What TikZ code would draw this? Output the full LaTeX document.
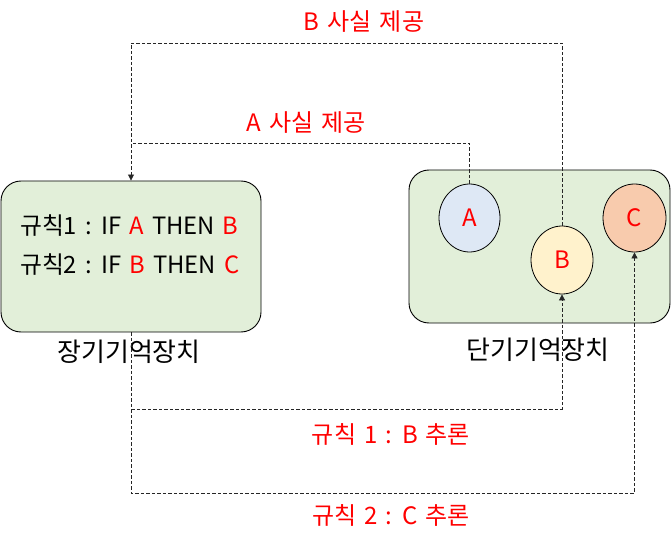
\documentclass[tikz,border=0pt]{standalone}
\usepackage{fontspec}
\setmainfont[WordSpace=1.5]{Noto Sans CJK KR}
\usetikzlibrary{shapes.geometric,arrows.meta}
\definecolor{boxgreen}{HTML}{E2EFD9}
\definecolor{cblue}{HTML}{DEE8F5}
\definecolor{cyellow}{HTML}{FFF2CC}
\definecolor{corange}{HTML}{F8CBAD}
\definecolor{lbl}{HTML}{FF0000}
\tikzset{
  membox/.style={draw=black, line width=0.9pt, fill=boxgreen, rounded corners=20pt, inner sep=0pt},
  fact/.style={draw=black, line width=0.8pt, ellipse, inner sep=0pt, text=lbl, font=\fontsize{24}{27}\selectfont},
  factA/.style={fact, fill=cblue},
  factB/.style={fact, fill=cyellow},
  factC/.style={fact, fill=corange},
  conn/.style={draw=black!85, line width=0.8pt, dash pattern=on 3.5pt off 2pt},
  tip/.style={-{Triangle[length=6pt,width=6pt]}},
  redlbl/.style={text=lbl, font=\fontsize{24}{28}\selectfont, inner sep=0pt},
  caption/.style={text=black, font=\fontsize{26}{30}\selectfont, inner sep=0pt},
  ruletxt/.style={text=black, font=\fontsize{23.8}{28}\selectfont, inner sep=0pt, anchor=west}
}
\begin{document}
\begin{tikzpicture}[x=1pt,y=-1pt]
\useasboundingbox (0,0) rectangle (671,545);
% memory boxes
\node[membox, minimum width=260pt, minimum height=151pt] (ltm) at (131,256.5) {};
\node[membox, minimum width=261pt, minimum height=153pt] (stm) at (539.5,246.5) {};
% facts
\node[factA, minimum width=61pt, minimum height=68pt] (A) at (469.5,218) {A};
\node[factB, minimum width=62pt, minimum height=68pt] (B) at (562,260) {B};
\node[factC, minimum width=63pt, minimum height=68pt] (C) at (634.5,218) {C};
% rules text
\node[ruletxt] (rule1) at (20,226) {규칙1 : IF \textcolor{lbl}{A} THEN \textcolor{lbl}{B}};
\node[ruletxt] (rule2) at (20,265) {규칙2 : IF \textcolor{lbl}{B} THEN \textcolor{lbl}{C}};
% captions
\node[caption] (ltmcap) at (129,352) {장기기억장치};
\node[caption] (stmcap) at (538,350) {단기기억장치};
% routing coordinates
\coordinate (ytopB) at (0,43);
\coordinate (ytopA) at (0,143);
\coordinate (ybot1) at (0,409);
\coordinate (ybot2) at (0,493);
% connectors
\draw[conn, tip] (B.north) -- (B.north |- ytopB) -| (ltm.north);
\draw[conn] (A.north) |- (ltm.north |- ytopA);
\draw[conn, tip] (ltm.south) -- (ltm.south |- ybot1) -| (B.south);
\draw[conn, tip] (ltm.south) -- (ltm.south |- ybot2) -| (C.south);
% labels
\node[redlbl] (lblB) at (364,22) {B 사실 제공};
\node[redlbl] (lblA) at (306,123) {A 사실 제공};
\node[redlbl] (lblR1) at (391,434) {규칙 1 : B 추론};
\node[redlbl] (lblR2) at (391,515) {규칙 2 : C 추론};
\end{tikzpicture}
\end{document}
